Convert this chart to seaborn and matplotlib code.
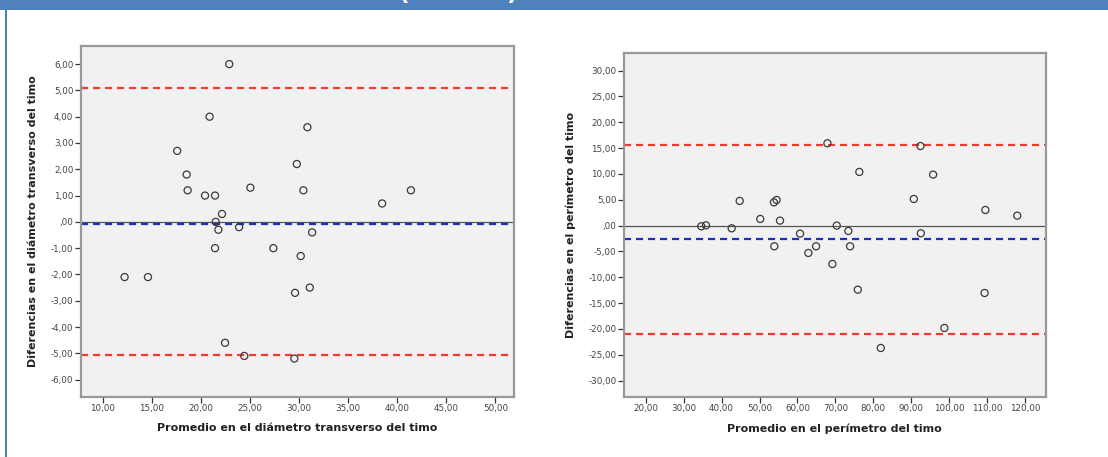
import matplotlib
matplotlib.use("Agg")
import matplotlib.pyplot as plt
import seaborn as sns
import numpy as np
import pandas as pd

# Diámetro transverso: promedio vs diferencia
diam_mean = [22.9, 20.9, 30.86, 17.6, 29.78, 18.56, 18.66, 25.05, 20.43, 21.45,
             30.45, 38.47, 41.4, 22.16, 21.52, 21.79, 23.9, 31.34, 21.45, 27.39,
             30.18, 12.24, 14.62, 29.6, 31.1, 22.47, 24.43, 29.53]
diam_diff = [6.0, 4.0, 3.6, 2.7, 2.2, 1.8, 1.2, 1.3, 1.0, 1.0,
             1.2, 0.7, 1.2, 0.3, 0.0, -0.3, -0.2, -0.4, -1.0, -1.0,
             -1.3, -2.1, -2.1, -2.7, -2.5, -4.6, -5.1, -5.2]
diam_bias = -0.08
diam_loa = [5.09, -5.08]

# Perímetro: promedio vs diferencia
per_mean = [34.66, 35.9, 44.78, 42.67, 50.2, 53.8, 54.5, 55.4, 60.68, 67.9,
            76.3, 70.35, 73.4, 90.66, 92.4, 95.74, 92.5, 109.5, 117.9,
            53.9, 62.87, 64.9, 73.86, 69.2, 75.9, 109.3, 98.7, 81.95]
per_diff = [-0.13, 0.06, 4.78, -0.52, 1.29, 4.51, 4.97, 0.97, -1.55, 15.93,
            10.39, 0.0, -1.03, 5.16, 15.4, 9.87, -1.48, 3.03, 1.93,
            -4.0, -5.29, -4.0, -4.0, -7.42, -12.39, -13.03, -19.8, -23.67]
per_bias = -2.6
per_loa = [15.68, -21.04]

diam_xticks = [10, 15, 20, 25, 30, 35, 40, 45, 50]
diam_yticks = [6, 5, 4, 3, 2, 1, 0, -1, -2, -3, -4, -5, -6]
per_xticks = [20, 30, 40, 50, 60, 70, 80, 90, 100, 110, 120]
per_yticks = [30, 25, 20, 15, 10, 5, 0, -5, -10, -15, -20, -25, -30]

title = "Gráficos de Bland-Altman (oto-oto)"
diam_xlabel = "Promedio en el diámetro transverso del timo"
diam_ylabel = "Diferencias en el diámetro transverso del timo"
per_xlabel = "Promedio en el perímetro del timo"
per_ylabel = "Diferencias en el perímetro del timo"

sns.set_theme(style="white")
plt.rcParams["font.family"] = ["DejaVu Sans"]

W, H = 1108, 457
fig = plt.figure(figsize=(W / 100, H / 100), dpi=100)
fig.patch.set_facecolor("white")

# header band (its heading runs off the top edge) and left rule
fig.add_artist(plt.Rectangle((0, 1 - 10 / H), 1, 10 / H, transform=fig.transFigure,
                             color="#4f81bd", lw=0, zorder=0))
fig.add_artist(plt.Rectangle((5 / W, 0), 2 / W, 1 - 10 / H, transform=fig.transFigure,
                             color="#4f81bd", lw=0, zorder=0))
fig.text(518 / W, 1 - 0.2 / H, title, ha="right", va="baseline", color="white",
         fontsize=17, fontweight="bold")


def fmt(v):
    s = f"{v:.2f}".replace(".", ",")
    return ",00" if s == "0,00" else s


def panel(rect, x, y, bias, loa, xlim, ylim, xticks, yticks, xlabel, ylabel):
    ax = fig.add_axes(rect)
    ax.set_facecolor("#f1f1f1")
    df = pd.DataFrame({"x": x, "y": y})
    ax.axhline(0, color="#555555", lw=0.9, zorder=1)
    for v in loa:
        ax.axhline(v, color="#ee3b2b", lw=1.6, ls=(0, (3.2, 2.2)), zorder=2)
    ax.axhline(bias, color="#1f2fbf", lw=1.6, ls=(0, (3.2, 2.2)), zorder=2)
    sns.scatterplot(data=df, x="x", y="y", ax=ax, marker="o", s=26,
                    color="#3a3a3a", linewidth=0.9, zorder=3)
    coll = ax.collections[-1]
    coll.set_facecolor("none")
    coll.set_edgecolor("#3a3a3a")
    ax.set_xlim(*xlim)
    ax.set_ylim(*ylim)
    ax.set_xticks(xticks)
    ax.set_yticks(yticks)
    ax.set_xticklabels([fmt(v) for v in xticks])
    ax.set_yticklabels([fmt(v) for v in yticks])
    ax.tick_params(axis="both", which="major", direction="out", length=4, width=0.9,
                   color="#333333", labelsize=6.3, labelcolor="#444444", pad=1.5,
                   left=True, bottom=True)
    for s in ax.spines.values():
        s.set_color("#999999")
        s.set_linewidth(1.6)
    ax.set_xlabel(xlabel, fontsize=8.0, fontweight="bold", color="#222222", labelpad=7)
    ax.set_ylabel(ylabel, fontsize=8.0, fontweight="bold", color="#222222", labelpad=9)
    return ax


panel([81 / W, 1 - 396.7 / H, (514 - 81) / W, (396.7 - 45.7) / H],
      diam_mean, diam_diff, diam_bias, diam_loa, (7.8, 51.9), (-6.65, 6.7),
      diam_xticks, diam_yticks, diam_xlabel, diam_ylabel)
panel([624 / W, 1 - 396.7 / H, (1045.7 - 624) / W, (396.7 - 53) / H],
      per_mean, per_diff, per_bias, per_loa, (14.3, 125.4), (-33.1, 33.4),
      per_xticks, per_yticks, per_xlabel, per_ylabel)

fig.savefig("out.png", dpi=100)
